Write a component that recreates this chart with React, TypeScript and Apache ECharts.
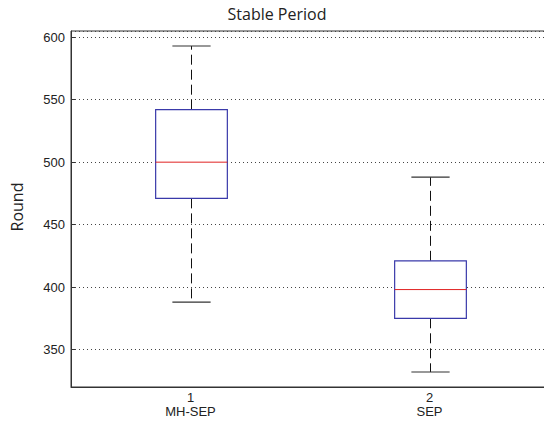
import React, { useEffect, useRef } from "react";
import * as echarts from "echarts";

const tickNumbers = ["1", "2"];
const groupNames = ["MH-SEP", "SEP"];
const lowerWhisker = [388, 332];
const firstQuartile = [471, 375];
const medians = [500, 398];
const thirdQuartile = [542, 421];
const upperWhisker = [593, 488];

const yTicks = [350, 400, 450, 500, 550, 600];

export default function App() {
  const ref = useRef<HTMLDivElement>(null);
  useEffect(() => {
    if (!ref.current) return;
    const chart = echarts.init(ref.current, undefined, { renderer: "svg" });
    const data = tickNumbers.map((_, i) => [
      i,
      lowerWhisker[i],
      firstQuartile[i],
      medians[i],
      thirdQuartile[i],
      upperWhisker[i],
    ]);
    const font = "'Liberation Sans', Arial, sans-serif";
    chart.setOption({
      animation: false,
      title: {
        text: "Stable Period",
        left: 272,
        top: 1,
        textAlign: "center",
        textStyle: {
          fontFamily: "'Open Sans', sans-serif",
          fontSize: 16,
          fontWeight: "normal",
          color: "#222",
        },
      },
      grid: {
        left: 71,
        top: 31,
        width: 478,
        height: 356,
        outerBoundsMode: "none",
        containLabel: false,
        show: true,
        borderColor: "#333",
        borderWidth: 1,
        backgroundColor: "#fff",
      },
      xAxis: {
        type: "category",
        data: tickNumbers.map((t, i) => t + "\n" + groupNames[i]),
        boundaryGap: true,
        axisLine: { show: true, lineStyle: { color: "#333" } },
        axisTick: { show: false },
        axisLabel: {
          color: "#222",
          fontFamily: font,
          fontSize: 13,
          lineHeight: 14,
          margin: 3,
        },
        splitLine: { show: false },
      },
      yAxis: {
        type: "value",
        min: 320,
        max: 605,
        splitNumber: 6,
        axisLine: { show: true, lineStyle: { color: "#333" } },
        axisTick: {
          show: true,
          inside: true,
          length: 4,
          lineStyle: { color: "#333" },
        },
        axisLabel: {
          color: "#222",
          fontFamily: font,
          fontSize: 13,
          margin: 6,
          showMinLabel: false,
          showMaxLabel: false,
          formatter: (v: number) => (yTicks.indexOf(v) >= 0 ? String(v) : ""),
        },
        splitLine: {
          show: true,
          lineStyle: { color: "#444", type: [1, 3], width: 1 },
        },
      },
      graphic: [
        {
          type: "text",
          x: 17,
          y: 207,
          rotation: Math.PI / 2,
          style: {
            text: "Round",
            align: "center",
            verticalAlign: "middle",
            fontFamily: "'Open Sans', sans-serif",
            fontSize: 16,
            fill: "#222",
          },
        },
      ],
      series: [
        {
          type: "custom",
          data,
          encode: { x: 0, y: [1, 2, 3, 4, 5] },
          renderItem: (params: any, api: any) => {
            const idx = api.value(0);
            const low = api.coord([idx, api.value(1)]);
            const q1 = api.coord([idx, api.value(2)]);
            const med = api.coord([idx, api.value(3)]);
            const q3 = api.coord([idx, api.value(4)]);
            const high = api.coord([idx, api.value(5)]);
            const band = api.size([1, 0])[0];
            const bw = band * 0.3;
            const cw = band * 0.16;
            const cx = Math.round(low[0]) + 0.5;
            const dash = { stroke: "#111", lineWidth: 1, lineDash: [10, 5] };
            return {
              type: "group",
              children: [
                {
                  type: "line",
                  shape: { x1: cx, y1: q3[1], x2: cx, y2: high[1] },
                  style: dash,
                },
                {
                  type: "line",
                  shape: { x1: cx, y1: q1[1], x2: cx, y2: low[1] },
                  style: dash,
                },
                {
                  type: "line",
                  shape: { x1: cx - cw / 2, y1: high[1], x2: cx + cw / 2, y2: high[1] },
                  style: { stroke: "#333", lineWidth: 1.2 },
                },
                {
                  type: "line",
                  shape: { x1: cx - cw / 2, y1: low[1], x2: cx + cw / 2, y2: low[1] },
                  style: { stroke: "#333", lineWidth: 1.2 },
                },
                {
                  type: "rect",
                  shape: { x: cx - bw / 2, y: q3[1], width: bw, height: q1[1] - q3[1] },
                  style: { fill: "#fff", stroke: "#3a3aaa", lineWidth: 1.2 },
                },
                {
                  type: "line",
                  shape: { x1: cx - bw / 2, y1: med[1], x2: cx + bw / 2, y2: med[1] },
                  style: { stroke: "#e02020", lineWidth: 1 },
                },
              ],
            };
          },
        },
      ],
    });
    return () => chart.dispose();
  }, []);
  return (
    <div
      ref={ref}
      style={{ position: "absolute", left: 0, top: 0, width: 544, height: 425 }}
    />
  );
}
